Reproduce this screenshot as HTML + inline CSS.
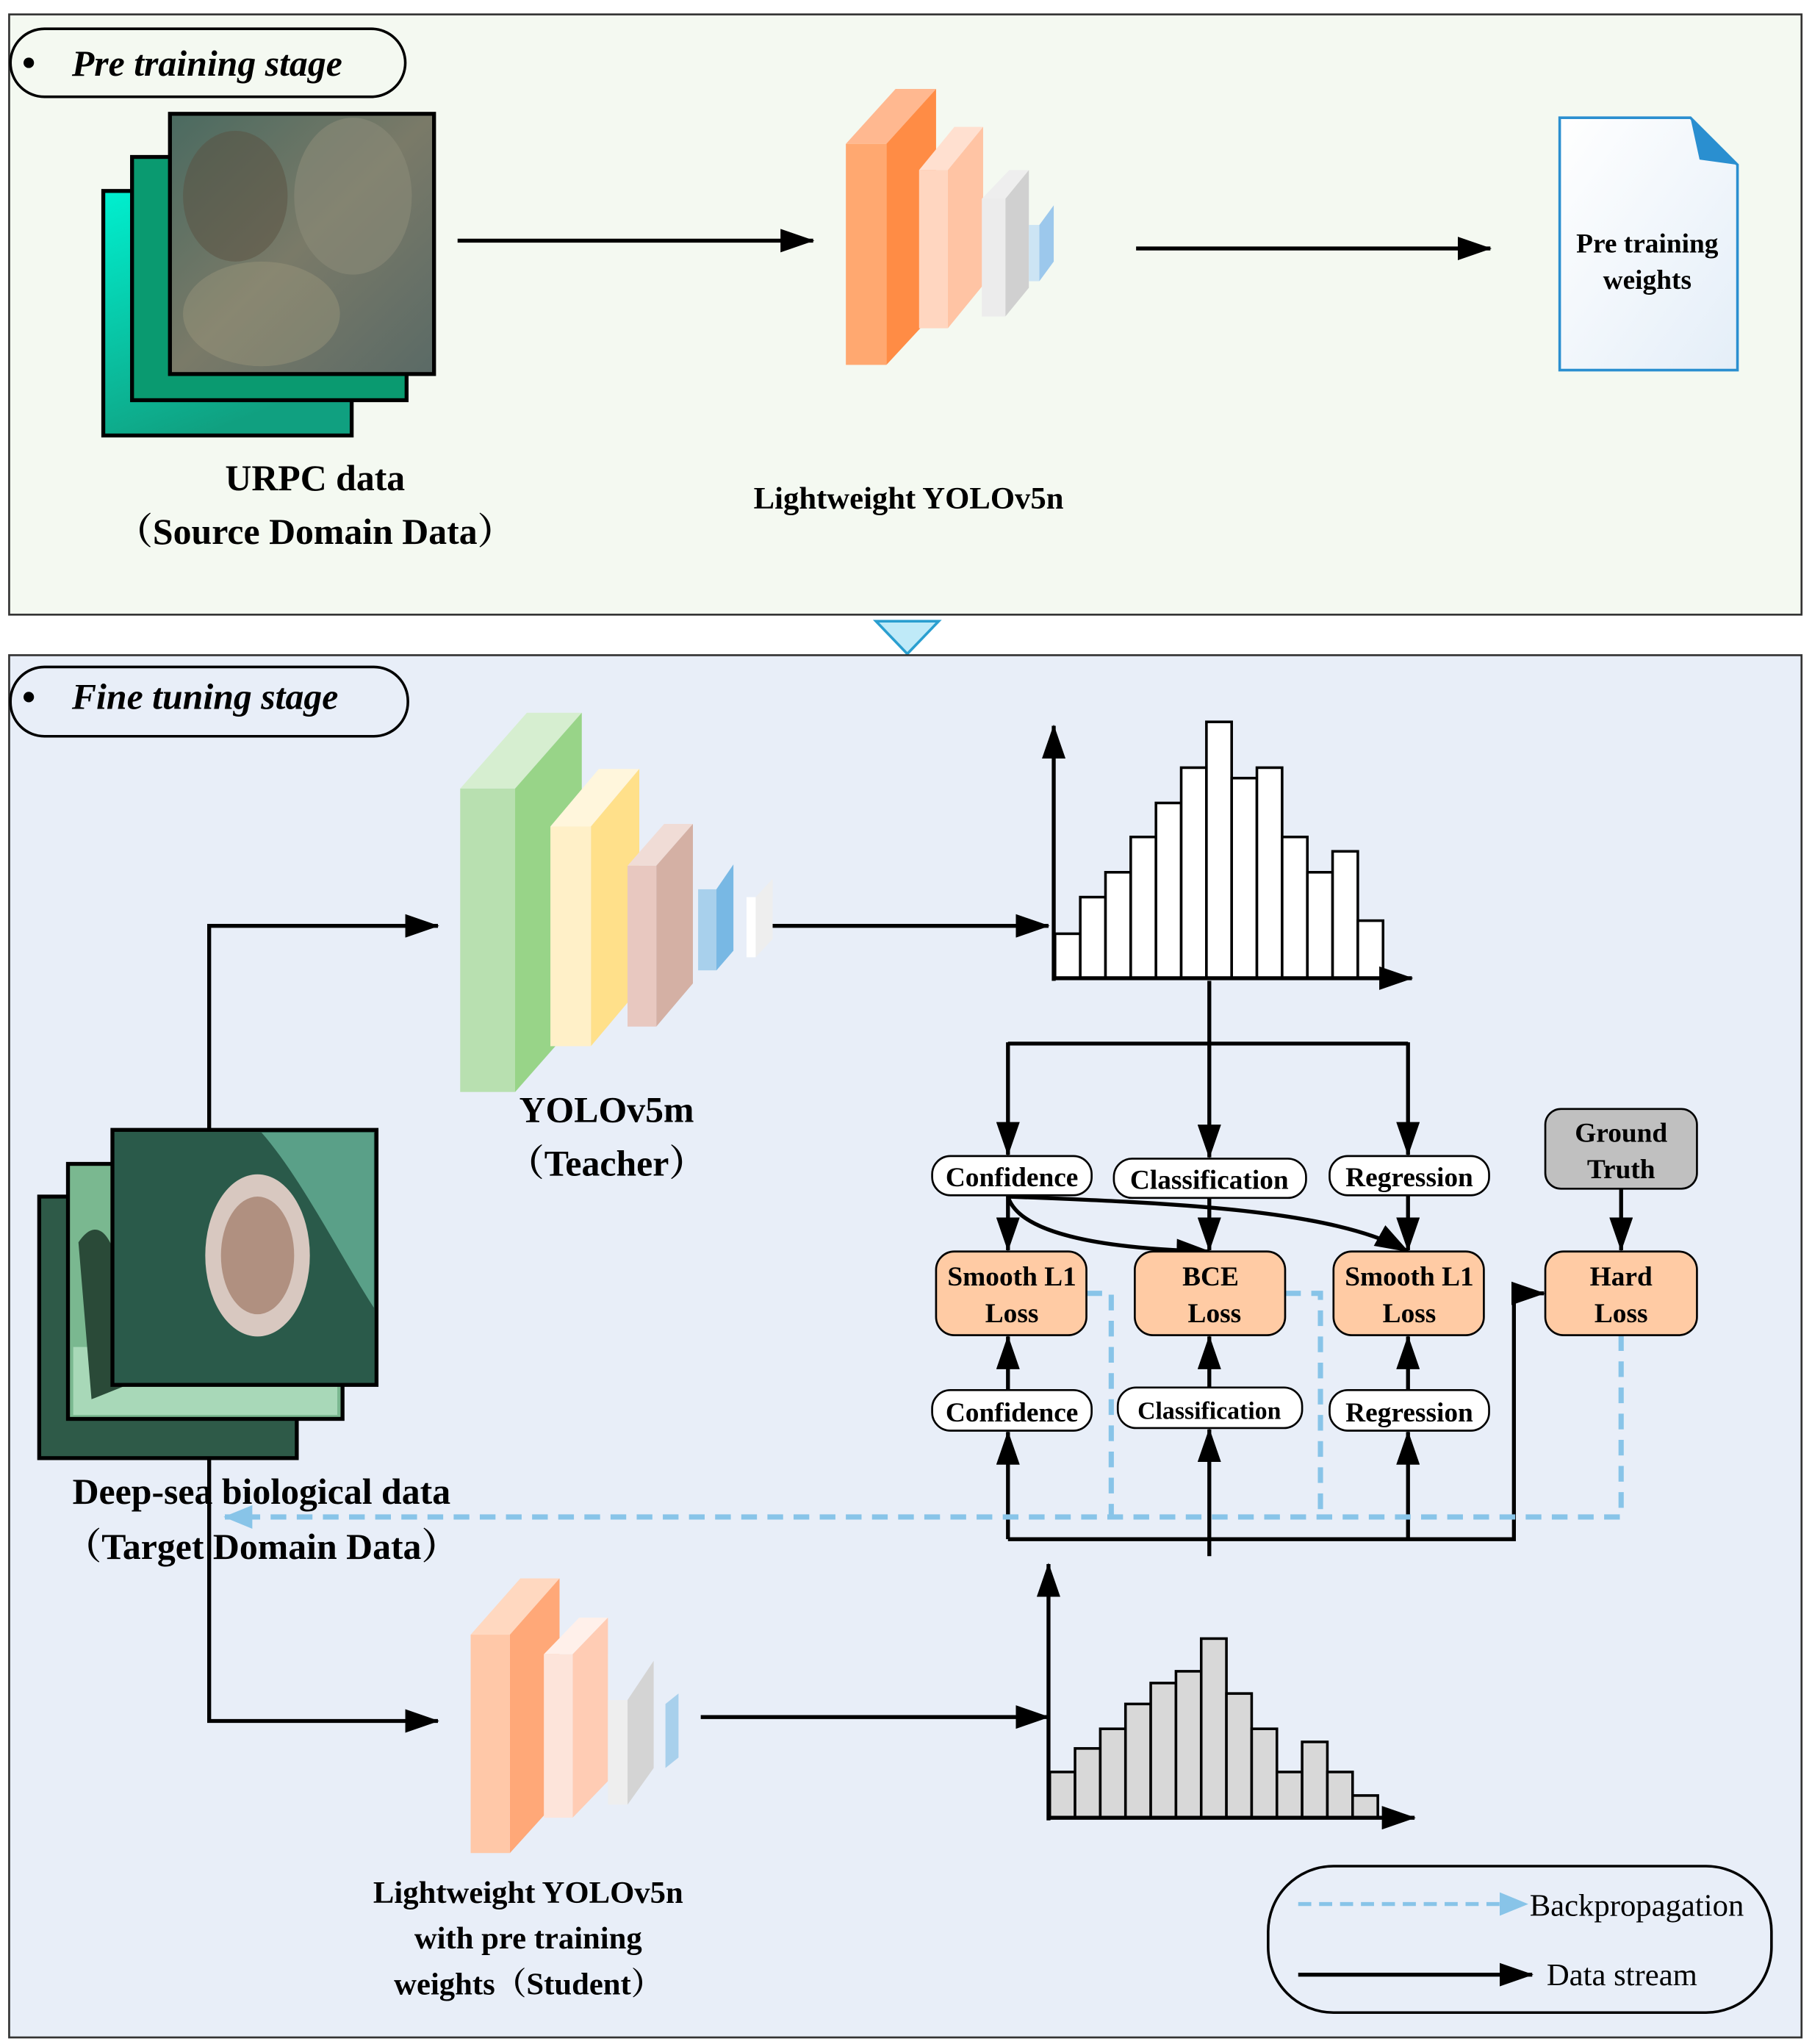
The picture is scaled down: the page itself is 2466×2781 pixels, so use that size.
<!DOCTYPE html>
<html><head><meta charset="utf-8"><style>
html,body{margin:0;padding:0;background:#fff}
svg{display:block}
text{font-family:"Liberation Serif","Noto Serif CJK SC",serif;font-weight:bold;fill:#000}
</style></head><body>
<svg width="2466" height="2781" viewBox="0 0 1386 1563" xmlns="http://www.w3.org/2000/svg">
<defs>
<marker id="ab" markerWidth="26" markerHeight="18" refX="25" refY="9" orient="auto" markerUnits="userSpaceOnUse" viewBox="0 0 26 18"><path d="M0,0 L26,9 L0,18 z" fill="#000"/></marker>
<marker id="abl" markerWidth="22" markerHeight="18" refX="21" refY="9" orient="auto" markerUnits="userSpaceOnUse" viewBox="0 0 22 18"><path d="M0,0 L22,9 L0,18 z" fill="#88c4e8"/></marker>
<linearGradient id="g1" x1="0" y1="0" x2="0.4" y2="1"><stop offset="0" stop-color="#00f0d0"/><stop offset="1" stop-color="#10a080"/></linearGradient>
<linearGradient id="g2" x1="0" y1="0" x2="1" y2="1"><stop offset="0" stop-color="#4a6a60"/><stop offset="0.5" stop-color="#7a7a68"/><stop offset="1" stop-color="#5a6a66"/></linearGradient>
<linearGradient id="gd" x1="0" y1="0" x2="1" y2="1"><stop offset="0" stop-color="#fff"/><stop offset="1" stop-color="#e4eef8"/></linearGradient>
</defs>

<rect x="7" y="11" width="1371" height="459" fill="#f4f9f1" stroke="#333" stroke-width="1.5"/>
<rect x="8" y="22" width="302" height="52" rx="26" fill="#f4f9f1" stroke="#000" stroke-width="2"/>
<circle cx="22" cy="48" r="4" fill="#000"/>
<text x="55" y="58" font-size="28" font-style="italic">Pre training stage</text>

<rect x="79" y="146" width="190" height="187" fill="url(#g1)" stroke="#000" stroke-width="3"/>
<rect x="101" y="120" width="210" height="186" fill="#0a9a70" stroke="#000" stroke-width="3"/>
<rect x="130" y="87" width="202" height="199" fill="url(#g2)" stroke="#000" stroke-width="3"/>
<ellipse cx="180" cy="150" rx="40" ry="50" fill="#5a5040" opacity="0.5"/>
<ellipse cx="270" cy="150" rx="45" ry="60" fill="#8a8a78" opacity="0.6"/>
<ellipse cx="200" cy="240" rx="60" ry="40" fill="#a09a80" opacity="0.4"/>

<line x1="350" y1="184" x2="622" y2="184" stroke="#000" stroke-width="3" marker-end="url(#ab)"/>

<polygon points="647,110 685,68 716,68 678,110" fill="#ffb890"/>
<polygon points="678,110 716,68 716,238 678,279" fill="#ff8c45"/>
<rect x="647" y="110" width="31" height="169" fill="#ffa870"/>
<polygon points="703,130 730,97 752,97 725,130" fill="#ffe0d0"/>
<polygon points="725,130 752,97 752,218 725,251" fill="#ffc4a4"/>
<rect x="703" y="130" width="22" height="121" fill="#ffd6c0"/>
<polygon points="751,152 772,130 787,130 769,152" fill="#eee"/>
<polygon points="769,152 787,130 787,220 769,242" fill="#d0d0d0"/>
<rect x="751" y="152" width="18" height="90" fill="#ececec"/>
<polygon points="795,172 806,157 806,200 795,215" fill="#9cc8ec"/>
<rect x="787" y="172" width="8" height="43" fill="#cce4f4"/>

<line x1="869" y1="190" x2="1140" y2="190" stroke="#000" stroke-width="3" marker-end="url(#ab)"/>

<path d="M1193,90 L1293,90 L1329,126 L1329,283 L1193,283 Z" fill="url(#gd)" stroke="#2a8fd0" stroke-width="2"/>
<path d="M1293,90 L1329,126 L1300,122 Z" fill="#2a8fd0"/>
<text x="1260" y="193" font-size="21" text-anchor="middle">Pre training</text>
<text x="1260" y="221" font-size="21" text-anchor="middle">weights</text>

<text x="241" y="375" font-size="28" text-anchor="middle">URPC data</text>
<text x="241" y="416" font-size="28" text-anchor="middle">（Source Domain Data）</text>
<text x="695" y="389" font-size="24" text-anchor="middle">Lightweight YOLOv5n</text>

<polygon points="670,475 718,475 694,500" fill="#bfeaf8" stroke="#2a9fd0" stroke-width="2"/>

<rect x="7" y="501" width="1371" height="1057" fill="#e8eef8" stroke="#333" stroke-width="1.5"/>
<rect x="8" y="510" width="304" height="53" rx="26" fill="#e8eef8" stroke="#000" stroke-width="2"/>
<circle cx="22" cy="533" r="4" fill="#000"/>
<text x="55" y="542" font-size="28" font-style="italic">Fine tuning stage</text>

<polygon points="352,603 403,545 445,545 394,603" fill="#d6eed0"/>
<polygon points="394,603 445,545 445,777 394,835" fill="#98d488"/>
<rect x="352" y="603" width="42" height="232" fill="#b8e0b0"/>
<polygon points="421,632 458,588 489,588 452,632" fill="#fff6dc"/>
<polygon points="452,632 489,588 489,756 452,800" fill="#ffe08a"/>
<rect x="421" y="632" width="31" height="168" fill="#fff0c8"/>
<polygon points="480,662 508,630 530,630 502,662" fill="#f0dcd6"/>
<polygon points="502,662 530,630 530,752 502,785" fill="#d4b0a4"/>
<rect x="480" y="662" width="22" height="123" fill="#e8c8c0"/>
<polygon points="548,680 561,661 561,727 548,742" fill="#78b8e4"/>
<rect x="534" y="680" width="14" height="62" fill="#a8d0ec"/>
<polygon points="578,686 591,672 591,718 578,732" fill="#eee"/>
<rect x="571" y="686" width="7" height="46" fill="#fff"/>
<text x="464" y="858" font-size="28" text-anchor="middle">YOLOv5m</text>
<text x="464" y="899" font-size="28" text-anchor="middle">（Teacher）</text>

<polyline points="160,865 160,708 335,708" fill="none" stroke="#000" stroke-width="3" marker-end="url(#ab)"/>
<line x1="591" y1="708" x2="802" y2="708" stroke="#000" stroke-width="3" marker-end="url(#ab)"/>

<g fill="#fff" stroke="#000" stroke-width="2">
<rect x="807" y="714" width="19.3" height="34"/>
<rect x="826.3" y="686" width="19.3" height="62"/>
<rect x="845.6" y="667" width="19.3" height="81"/>
<rect x="864.9" y="640" width="19.3" height="108"/>
<rect x="884.2" y="614" width="19.3" height="134"/>
<rect x="903.5" y="587" width="19.3" height="161"/>
<rect x="922.8" y="552" width="19.3" height="196"/>
<rect x="942.1" y="595" width="19.3" height="153"/>
<rect x="961.4" y="587" width="19.3" height="161"/>
<rect x="980.7" y="640" width="19.3" height="108"/>
<rect x="1000" y="667" width="19.3" height="81"/>
<rect x="1019.3" y="651" width="19.3" height="97"/>
<rect x="1038.6" y="704" width="19.3" height="44"/>
</g>
<line x1="806" y1="750" x2="806" y2="555" stroke="#000" stroke-width="3" marker-end="url(#ab)"/>
<line x1="805" y1="748" x2="1080" y2="748" stroke="#000" stroke-width="3" marker-end="url(#ab)"/>

<g stroke="#000" stroke-width="3" fill="none">
<line x1="925" y1="750" x2="925" y2="885" marker-end="url(#ab)"/>
<line x1="771" y1="798" x2="1077" y2="798"/>
<line x1="771" y1="797" x2="771" y2="883" marker-end="url(#ab)"/>
<line x1="1077" y1="797" x2="1077" y2="883" marker-end="url(#ab)"/>
<line x1="771" y1="914" x2="771" y2="956" marker-end="url(#ab)"/>
<line x1="925" y1="916" x2="925" y2="956" marker-end="url(#ab)"/>
<line x1="1077" y1="914" x2="1077" y2="956" marker-end="url(#ab)"/>
<line x1="1240" y1="909" x2="1240" y2="956" marker-end="url(#ab)"/>
<path d="M771,915 C780,945 850,955 925,957" marker-end="url(#ab)"/>
<path d="M771,915 C900,920 1020,925 1077,957" marker-end="url(#ab)"/>
<line x1="771" y1="1177" x2="771" y2="1095" marker-end="url(#ab)"/>
<line x1="771" y1="1063" x2="771" y2="1022" marker-end="url(#ab)"/>
<line x1="925" y1="1190" x2="925" y2="1093" marker-end="url(#ab)"/>
<line x1="925" y1="1061" x2="925" y2="1022" marker-end="url(#ab)"/>
<line x1="1077" y1="1177" x2="1077" y2="1095" marker-end="url(#ab)"/>
<line x1="1077" y1="1063" x2="1077" y2="1022" marker-end="url(#ab)"/>
<polyline points="771,1177 1158,1177 1158,989 1181,989" marker-end="url(#ab)"/>
</g>

<g stroke="#88c4e8" stroke-width="4" fill="none" stroke-dasharray="12,8">
<polyline points="831,989 850,989 850,1160"/>
<polyline points="983,989 1010,989 1010,1160"/>
<polyline points="1240,1021 1240,1160 172,1160" marker-end="url(#abl)"/>
</g>

<g stroke="#000" stroke-width="1.5">
<rect x="713" y="884" width="122" height="30" rx="14" fill="#fff"/>
<rect x="852" y="886" width="147" height="30" rx="14" fill="#fff"/>
<rect x="1017" y="884" width="122" height="30" rx="14" fill="#fff"/>
<rect x="1182" y="848" width="116" height="61" rx="12" fill="#c0c0c0"/>
<rect x="716" y="957" width="115" height="64" rx="14" fill="#ffcba4"/>
<rect x="868" y="957" width="115" height="64" rx="14" fill="#ffcba4"/>
<rect x="1020" y="957" width="115" height="64" rx="14" fill="#ffcba4"/>
<rect x="1182" y="957" width="116" height="64" rx="14" fill="#ffcba4"/>
<rect x="713" y="1063" width="122" height="31" rx="14" fill="#fff"/>
<rect x="855" y="1061" width="141" height="31" rx="14" fill="#fff"/>
<rect x="1017" y="1063" width="122" height="31" rx="14" fill="#fff"/>
</g>
<g font-size="21" text-anchor="middle">
<text x="774" y="907">Confidence</text>
<text x="925" y="909">Classification</text>
<text x="1078" y="907">Regression</text>
<text x="1240" y="873">Ground</text>
<text x="1240" y="901">Truth</text>
<text x="774" y="983">Smooth L1</text>
<text x="774" y="1011">Loss</text>
<text x="926" y="983">BCE</text>
<text x="929" y="1011">Loss</text>
<text x="1078" y="983">Smooth L1</text>
<text x="1078" y="1011">Loss</text>
<text x="1240" y="983">Hard</text>
<text x="1240" y="1011">Loss</text>
<text x="774" y="1087">Confidence</text>
<text x="925" y="1085" font-size="19">Classification</text>
<text x="1078" y="1087">Regression</text>
</g>

<rect x="30" y="915" width="197" height="200" fill="#2e5a48" stroke="#000" stroke-width="3"/>
<rect x="52" y="890" width="210" height="195" fill="#7ab890" stroke="#000" stroke-width="3"/>
<rect x="56" y="1030" width="202" height="52" fill="#a8d8b8"/>
<path d="M60,950 C80,920 100,960 95,1060 L70,1070 Z" fill="#2a4a38"/>
<rect x="86" y="864" width="202" height="195" fill="#2a5a4a" stroke="#000" stroke-width="3"/>
<path d="M200,866 L286,866 L286,1000 C260,960 230,900 200,866 Z" fill="#5aa088"/>
<ellipse cx="197" cy="960" rx="40" ry="62" fill="#d8c8c0"/>
<ellipse cx="197" cy="960" rx="28" ry="45" fill="#b09080"/>

<text x="200" y="1150" font-size="28" text-anchor="middle">Deep-sea biological data</text>
<text x="200" y="1192" font-size="28" text-anchor="middle">（Target Domain Data）</text>

<polyline points="160,1115 160,1316 335,1316" fill="none" stroke="#000" stroke-width="3" marker-end="url(#ab)"/>

<polygon points="360,1250 398,1207 428,1207 390,1250" fill="#ffd8c0"/>
<polygon points="390,1250 428,1207 428,1375 390,1417" fill="#ffa878"/>
<rect x="360" y="1250" width="30" height="167" fill="#ffc8a8"/>
<polygon points="416,1265 443,1237 465,1237 438,1265" fill="#fff0ea"/>
<polygon points="438,1265 465,1237 465,1362 438,1390" fill="#ffccb4"/>
<rect x="416" y="1265" width="22" height="125" fill="#fde4da"/>
<polygon points="480,1300 500,1270 500,1352 480,1380" fill="#d4d4d4"/>
<rect x="465" y="1300" width="15" height="80" fill="#eee"/>
<polygon points="509,1303 519,1295 519,1344 509,1352" fill="#a8d0ec"/>

<text x="404" y="1455" font-size="24" text-anchor="middle">Lightweight YOLOv5n</text>
<text x="404" y="1490" font-size="24" text-anchor="middle">with pre training</text>
<text x="404" y="1525" font-size="24" text-anchor="middle">weights（Student）</text>

<line x1="536" y1="1313" x2="802" y2="1313" stroke="#000" stroke-width="3" marker-end="url(#ab)"/>

<g fill="#d8d8d8" stroke="#000" stroke-width="2">
<rect x="803" y="1355" width="19.3" height="35"/>
<rect x="822.3" y="1337" width="19.3" height="53"/>
<rect x="841.6" y="1322" width="19.3" height="68"/>
<rect x="860.9" y="1303" width="19.3" height="87"/>
<rect x="880.2" y="1287" width="19.3" height="103"/>
<rect x="899.5" y="1278" width="19.3" height="112"/>
<rect x="918.8" y="1253" width="19.3" height="137"/>
<rect x="938.1" y="1295" width="19.3" height="95"/>
<rect x="957.4" y="1322" width="19.3" height="68"/>
<rect x="976.7" y="1355" width="19.3" height="35"/>
<rect x="996" y="1332" width="19.3" height="58"/>
<rect x="1015.3" y="1355" width="19.3" height="35"/>
<rect x="1034.6" y="1373" width="19.3" height="17"/>
</g>
<line x1="802" y1="1392" x2="802" y2="1196" stroke="#000" stroke-width="3" marker-end="url(#ab)"/>
<line x1="801" y1="1390" x2="1082" y2="1390" stroke="#000" stroke-width="3" marker-end="url(#ab)"/>

<rect x="970" y="1427" width="385" height="112" rx="50" fill="none" stroke="#000" stroke-width="2"/>
<line x1="993" y1="1456" x2="1168" y2="1456" stroke="#88c4e8" stroke-width="3" stroke-dasharray="10,6" marker-end="url(#abl)"/>
<text x="1170" y="1465" font-size="24" style="font-weight:normal">Backpropagation</text>
<line x1="993" y1="1510" x2="1172" y2="1510" stroke="#000" stroke-width="3" marker-end="url(#ab)"/>
<text x="1183" y="1518" font-size="24" style="font-weight:normal">Data stream</text>
</svg>
</body></html>
